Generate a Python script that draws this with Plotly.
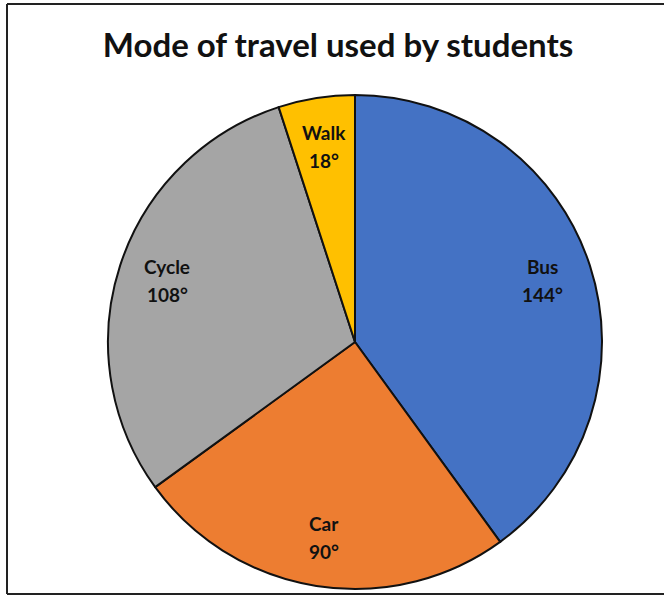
import math
import plotly.graph_objects as go

labels = ["Bus", "Car", "Cycle", "Walk"]
degrees = [144, 90, 108, 18]
colors = ["#4472C4", "#ED7D31", "#A5A5A5", "#FFC000"]

W, H = 664, 596
cx, cy, R = 355, 342, 247   # pie centre / radius in px

dom_x = [(cx - R) / W, (cx + R) / W]
dom_y = [1 - (cy + R) / H, 1 - (cy - R) / H]

fig = go.Figure(go.Pie(
    labels=labels,
    values=degrees,
    textinfo="none",
    sort=False,
    direction="clockwise",
    rotation=0,
    marker=dict(colors=colors, line=dict(color="#111111", width=2)),
    domain=dict(x=dom_x, y=dom_y),
    showlegend=False,
    hoverinfo="label+value",
))

# labels placed at slice mid-angles, derived from the values
annotations = []
total = sum(degrees)
start = 0.0
for lab, deg in zip(labels, degrees):
    mid = (start + deg / 2) / total * 2 * math.pi   # clockwise from 12 o'clock
    start += deg
    r = 0.8 * R
    px = cx + r * math.sin(mid)
    py = cy - r * math.cos(mid)
    for txt, shift in ((lab, 14), (f"{deg}°", -14)):
        annotations.append(dict(
            x=px / W, y=1 - py / H, xref="paper", yref="paper",
            xanchor="center", yanchor="middle",
            text=f"<b>{txt}</b>", showarrow=False, yshift=shift,
            font=dict(family="Lato", size=19, color="#111111"),
        ))

fig.update_layout(
    width=W, height=H,
    margin=dict(l=0, r=0, t=0, b=0),
    paper_bgcolor="white",
    title=dict(text="<b>Mode of travel used by students</b>", x=338 / W, xanchor="center",
               y=1 - 45 / H, yanchor="middle",
               font=dict(family="Lato", size=33, color="#111111")),
    annotations=annotations,
    shapes=[
        dict(type="line", xref="paper", yref="paper", x0=7 / W, x1=1, y0=1 - 4 / H, y1=1 - 4 / H,
             line=dict(color="#222222", width=2)),
        dict(type="line", xref="paper", yref="paper", x0=7 / W, x1=1, y0=1 - 594 / H, y1=1 - 594 / H,
             line=dict(color="#222222", width=2)),
        dict(type="line", xref="paper", yref="paper", x0=7 / W, x1=7 / W, y0=1 - 594 / H, y1=1 - 4 / H,
             line=dict(color="#222222", width=2)),
    ],
)

fig.write_html(
    "out.html",
    config={"displayModeBar": False},
    post_script="document.body.style.margin='0';document.body.style.overflow='hidden';",
)
